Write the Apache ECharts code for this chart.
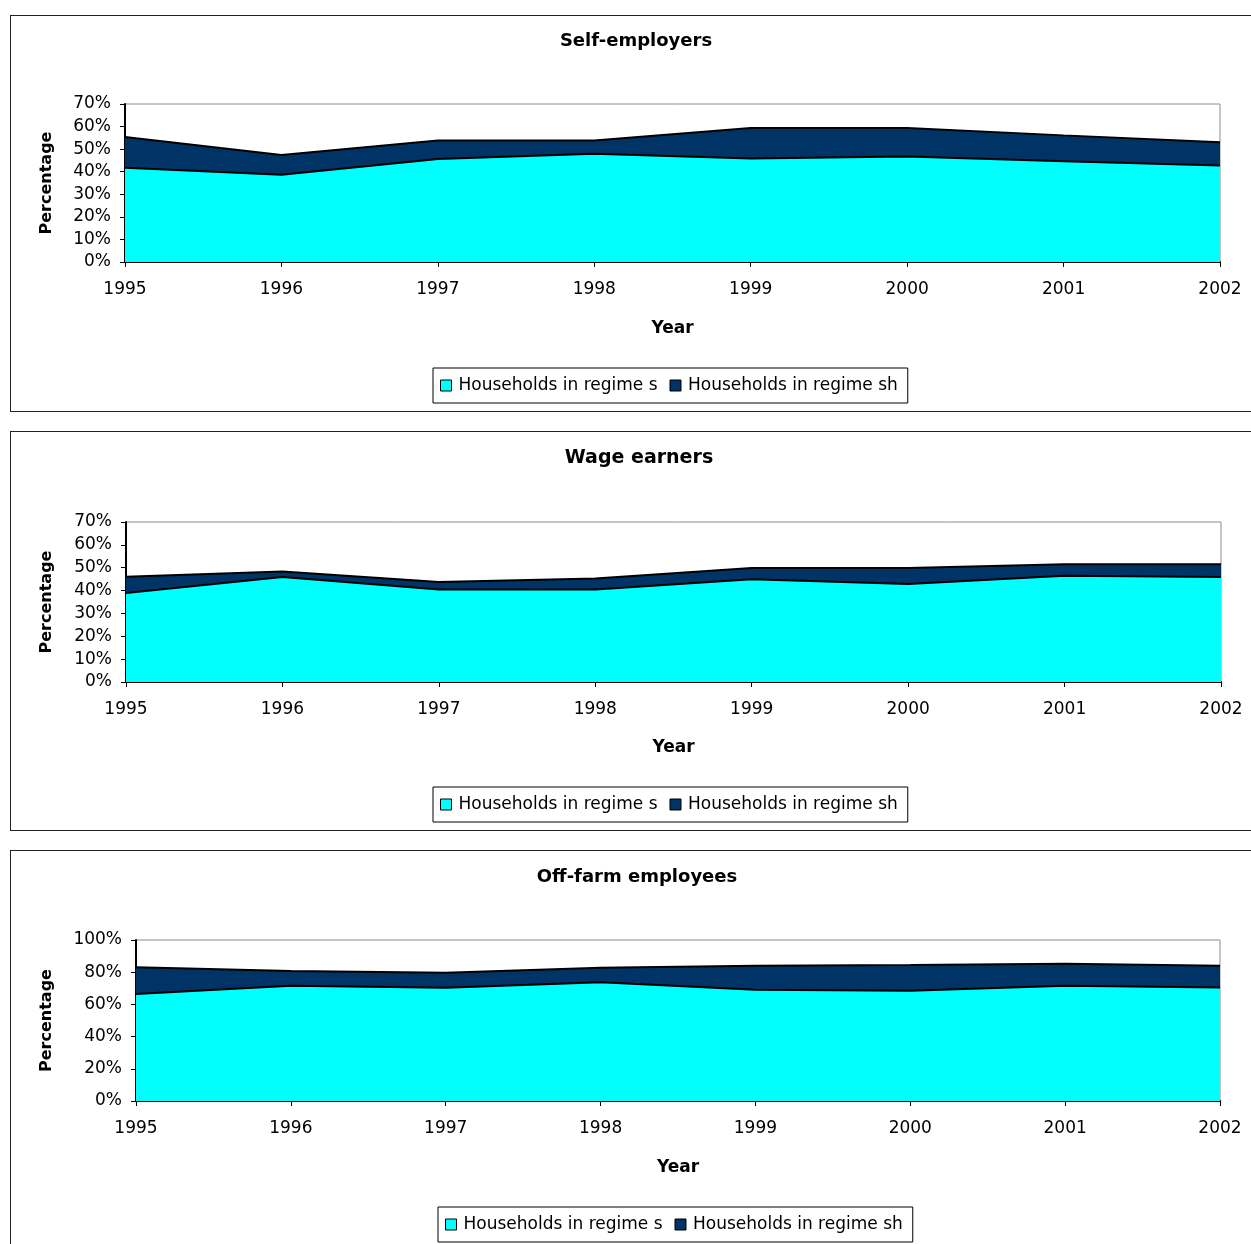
<!DOCTYPE html>
<html>
<head>
<meta charset="utf-8">
<script src="https://cdn.jsdelivr.net/npm/echarts@6/dist/echarts.min.js"></script>
<style>
html,body{margin:0;padding:0;background:#fff;overflow:hidden;width:1251px;height:1244px;}
.panel{position:absolute;border:1px solid #222;background:#fff;}
</style>
</head>
<body>
<div id="p1" class="panel" style="left:10px;top:15px;width:1260px;height:395px;"></div>
<div id="p2" class="panel" style="left:10px;top:431px;width:1260px;height:398px;"></div>
<div id="p3" class="panel" style="left:10px;top:850px;width:1260px;height:430px;"></div>
<script>
// ---- data ----
var years = ['1995','1996','1997','1998','1999','2000','2001','2002'];
var seriesNames = ['Households in regime s', 'Households in regime sh'];
var titles = ['Self-employers', 'Wage earners', 'Off-farm employees'];

var selfS  = [41.8, 38.7, 45.6, 48.0, 45.8, 46.7, 44.6, 42.7];
var selfSH = [13.6,  8.7,  8.2,  5.8, 13.6, 12.7, 11.5, 10.3];

var wageS  = [38.9, 45.9, 40.5, 40.5, 44.9, 42.9, 46.5, 45.9];
var wageSH = [ 7.2,  2.4,  3.2,  4.8,  5.0,  7.0,  5.0,  5.6];

var offS   = [66.4, 71.6, 70.3, 73.7, 69.1, 68.5, 71.6, 70.5];
var offSH  = [16.6,  9.1,  9.4,  9.1, 14.9, 15.9, 13.7, 13.5];

var yMax = [70, 70, 100];
var yInterval = [10, 10, 20];

// ---- layout (not data) ----
var layouts = [
  {grid:{left:114, top:88, width:1095, height:158}, titleX:625, titleY:25, titleSize:18, nameGap:70, legendLeft:422, legendTop:352, yearGap:58},
  {grid:{left:115, top:90, width:1095, height:160}, titleX:628, titleY:26, titleSize:19, nameGap:71, legendLeft:422, legendTop:355, yearGap:57},
  {grid:{left:125, top:89, width:1084, height:161}, titleX:626, titleY:26, titleSize:18, nameGap:81, legendLeft:427, legendTop:356, yearGap:58}
];
var dataSets = [[selfS, selfSH], [wageS, wageSH], [offS, offSH]];
var FONT = '"DejaVu Sans", Verdana, sans-serif';

function build(i) {
  var L = layouts[i];
  return {
    animation: false,
    backgroundColor: '#fff',
    textStyle: {fontFamily: FONT, color: '#000'},
    graphic: [{
      type: 'text', x: L.titleX, y: L.titleY,
      style: {text: titles[i], fill: '#000', font: 'bold ' + L.titleSize + 'px ' + FONT,
              textAlign: 'center', textVerticalAlign: 'middle'}
    }],
    grid: Object.assign({show: true, borderColor: '#8c8c8c', borderWidth: 1, backgroundColor: '#fff'}, L.grid),
    legend: {
      left: L.legendLeft, top: L.legendTop,
      data: seriesNames,
      icon: 'rect', itemWidth: 11, itemHeight: 11, itemGap: 12,
      borderColor: '#000', borderWidth: 1, padding: [9, 10, 9, 7],
      itemStyle: {borderColor: '#000', borderWidth: 1},
      textStyle: {fontSize: 17, color: '#000', fontFamily: FONT, padding: [0, 0, 0, 2]}
    },
    xAxis: {
      type: 'category', data: years, boundaryGap: false,
      name: 'Year', nameLocation: 'middle', nameGap: L.yearGap,
      nameTextStyle: {fontSize: 17, fontWeight: 'bold', color: '#000', fontFamily: FONT},
      axisLine: {lineStyle: {color: '#000', width: 2}},
      axisTick: {show: true, length: 5, lineStyle: {color: '#000'}},
      axisLabel: {fontSize: 17, color: '#000', margin: 19, fontFamily: FONT},
      splitLine: {show: false}
    },
    yAxis: {
      type: 'value', min: 0, max: yMax[i], interval: yInterval[i],
      name: 'Percentage', nameLocation: 'middle', nameGap: L.nameGap, nameRotate: 90,
      nameTextStyle: {fontSize: 16, fontWeight: 'bold', color: '#000', fontFamily: FONT},
      axisLine: {show: true, lineStyle: {color: '#000', width: 2}},
      axisTick: {show: true, length: 5, lineStyle: {color: '#000'}},
      axisLabel: {fontSize: 17, color: '#000', margin: 14, formatter: '{value}%', fontFamily: FONT},
      splitLine: {show: false}
    },
    series: [
      {name: seriesNames[0], type: 'line', stack: 'total', data: dataSets[i][0],
       symbol: 'none', color: '#00ffff',
       lineStyle: {color: '#000', width: 2},
       areaStyle: {color: '#00ffff', opacity: 1}, z: 3},
      {name: seriesNames[1], type: 'line', stack: 'total', data: dataSets[i][1],
       symbol: 'none', color: '#003366',
       lineStyle: {color: '#000', width: 2},
       areaStyle: {color: '#003366', opacity: 1}, z: 2}
    ]
  };
}

['p1','p2','p3'].forEach(function(id, i) {
  var c = echarts.init(document.getElementById(id), null, {renderer: 'canvas'});
  c.setOption(build(i));
});
</script>
</body>
</html>
